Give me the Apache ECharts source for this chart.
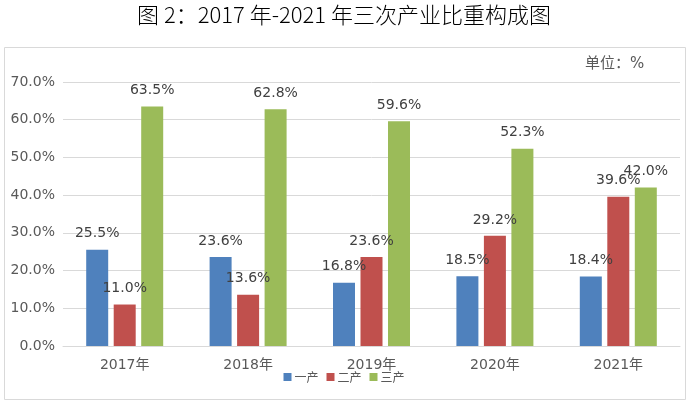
<!DOCTYPE html>
<html>
<head>
<meta charset="utf-8">
<script src="https://cdn.jsdelivr.net/npm/echarts@6/dist/echarts.min.js"></script>
<style>
  html, body { margin: 0; padding: 0; background: #fff; }
  #main { width: 688px; height: 404px; }
</style>
</head>
<body>
<div id="main"></div>
<script>
// 年份
const years = ['2017年', '2018年', '2019年', '2020年', '2021年']
// 三次产业比重（%）
const primary = [25.5, 23.6, 16.8, 18.5, 18.4]
const secondary = [11.0, 13.6, 23.6, 29.2, 39.6]
const tertiary = [63.5, 62.8, 59.6, 52.3, 42.0]
const seriesNames = ['一产', '二产', '三产']
const colors = ['#4F81BD', '#C0504D', '#9BBB59']

const font = '"DejaVu Sans", "Noto Sans CJK SC", sans-serif'
const cjkFont = '"Noto Sans CJK SC", sans-serif'

const chart = echarts.init(document.getElementById('main'))

const makeSeries = (name, data, color) => ({
  name: name,
  type: 'bar',
  data: data,
  barWidth: 22,
  barGap: '25%',
  itemStyle: { color: color },
  label: {
    show: true,
    position: 'top',
    distance: 9,
    color: '#404040',
    fontSize: 14,
    fontFamily: font,
    formatter: p => p.value.toFixed(1) + '%'
  }
})

chart.setOption({
  animation: false,
  title: {
    text: '图 2：2017 年-2021 年三次产业比重构成图',
    left: 'center',
    top: -1,
    textStyle: {
      fontSize: 22,
      fontWeight: 300,
      color: '#000',
      fontFamily: cjkFont
    }
  },
  graphic: [
    {
      type: 'rect',
      shape: { x: 4.5, y: 47.5, width: 681, height: 352 },
      style: { fill: 'none', stroke: '#d9d9d9', lineWidth: 1 },
      silent: true
    },
    {
      type: 'text',
      left: 585,
      top: 57,
      style: {
        text: '单位：%',
        fontSize: 15,
        fill: '#595959',
        fontFamily: font
      }
    }
  ],
  legend: {
    data: seriesNames,
    bottom: 16,
    left: 'center',
    itemWidth: 8,
    itemHeight: 8,
    itemGap: 8,
    icon: 'rect',
    textStyle: {
      fontSize: 12,
      color: '#595959',
      fontFamily: cjkFont,
      padding: [0, 0, 0, -2]
    }
  },
  grid: {
    left: 63,
    right: 8,
    top: 82,
    bottom: 58
  },
  xAxis: {
    type: 'category',
    data: years,
    axisTick: { show: false },
    axisLine: { lineStyle: { color: '#d9d9d9' } },
    axisLabel: {
      color: '#595959',
      fontSize: 14,
      margin: 12,
      fontFamily: font
    }
  },
  yAxis: {
    type: 'value',
    min: 0,
    max: 70,
    interval: 10,
    axisLine: { show: false },
    axisTick: { show: false },
    splitLine: { lineStyle: { color: '#d9d9d9' } },
    axisLabel: {
      color: '#595959',
      fontSize: 14,
      margin: 8,
      fontFamily: font,
      formatter: v => v.toFixed(1) + '%'
    }
  },
  series: [
    makeSeries(seriesNames[0], primary, colors[0]),
    makeSeries(seriesNames[1], secondary, colors[1]),
    makeSeries(seriesNames[2], tertiary, colors[2])
  ]
})
</script>
</body>
</html>
